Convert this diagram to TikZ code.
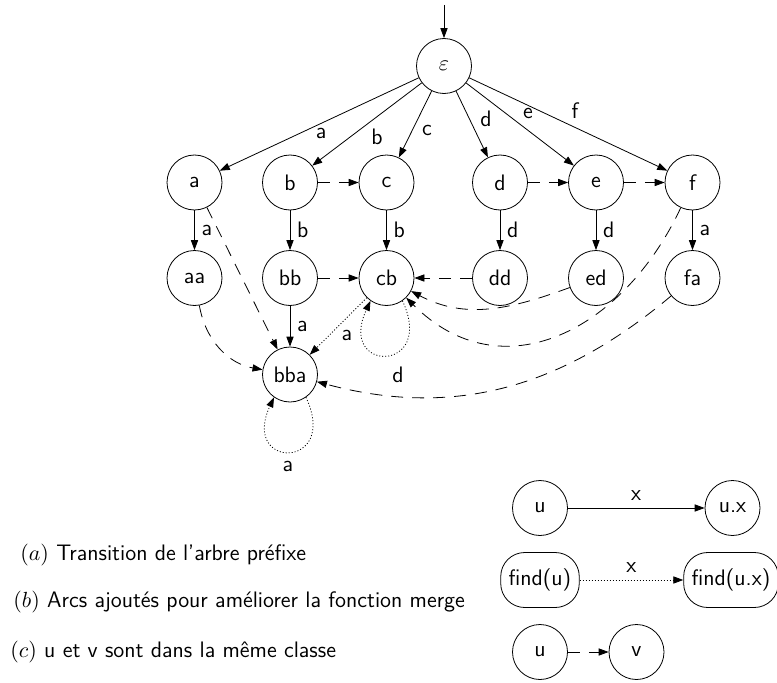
\documentclass[tikz,border=0pt]{standalone}
\usetikzlibrary{positioning}
\usetikzlibrary{arrows.meta}
\usepackage{amsmath}

\begin{document}
\begin{tikzpicture}[x=0.5pt, y=0.5pt, font=\fontsize{11.2}{13}\selectfont\sffamily,
    st/.style={circle, draw, minimum size=27.5pt, inner sep=0pt},
    rst/.style={rectangle, rounded corners=12pt, draw, minimum height=27.5pt, inner xsep=4pt, inner ysep=0pt},
    tr/.style={-{Triangle[length=5pt, width=3.6pt]}},
    same/.style={tr, dash pattern=on 6pt off 4.5pt},
    mrg/.style={tr, dash pattern=on 0.5pt off 1pt},
    capt/.style={anchor=west, inner sep=0pt}]
    \useasboundingbox (0,0) rectangle (777,682);

    % root
    \coordinate (start) at (444,677);
    \node[st] (eps) at (444,616) {$\varepsilon$};

    % first level
    \node[st] (a) at (194.5,499.5) {a};
    \node[st] (b) at (290,499.5) {b};
    \node[st] (c) at (386.5,499.5) {c};
    \node[st] (d) at (500,499.5) {d};
    \node[st] (e) at (596,499.5) {e};
    \node[st] (f) at (692.5,499.5) {f};

    % second level
    \node[st] (aa) at (194.5,404) {aa};
    \node[st] (bb) at (290,404) {bb};
    \node[st] (cb) at (386.5,404) {cb};
    \node[st] (dd) at (500,404) {dd};
    \node[st] (ed) at (596,404) {ed};
    \node[st] (fa) at (692.5,404) {fa};

    % third level
    \node[st] (bba) at (290,307.5) {bba};

    % prefix tree transitions
    \draw[tr] (start) -- (eps);
    \draw[tr] (eps) -- (a) node (ea) at (321,549) {a};
    \draw[tr] (eps) -- (b) node (eb) at (377,545) {b};
    \draw[tr] (eps) -- (c) node (ec) at (427,552) {c};
    \draw[tr] (eps) -- (d) node (ed-l) at (486,563) {d};
    \draw[tr] (eps) -- (e) node (ee) at (528,569) {e};
    \draw[tr] (eps) -- (f) node (ef) at (575,571) {f};
    \draw[tr] (a) -- node[right] (aal) {a} (aa);
    \draw[tr] (b) -- node[right] (bbl) {b} (bb);
    \draw[tr] (c) -- node[right] (cbl) {b} (cb);
    \draw[tr] (d) -- node[right] (ddl) {d} (dd);
    \draw[tr] (e) -- node[right] (edl) {d} (ed);
    \draw[tr] (f) -- node[right] (fal) {a} (fa);
    \draw[tr] (bb) -- node[right] (bbal) {a} (bba);

    % same class
    \draw[same] (b) -- (c);
    \draw[same] (d) -- (e);
    \draw[same] (e) -- (f);
    \draw[same] (bb) -- (cb);
    \draw[same] (dd) -- (cb);
    \draw[same] (a) -- (bba);
    \draw[same] (aa) to[out=-80, in=170] (bba);
    \draw[same] (ed) to[out=-160, in=-28] (cb);
    \draw[same] (f) to[out=-115, in=-45, looseness=1.2] (cb);
    \draw[same] (fa) to[out=-140, in=-15] (bba) node (fdl) at (398,307) {d};

    % arcs added for merge
    \draw[mrg] (cb) -- (bba) node (cbal) at (347,347) {a};
    \draw[mrg] (cb.-55) .. controls +(-65:80) and +(-115:80) .. (cb.-125);
    \draw[mrg] (bba.-55) .. controls +(-65:80) and +(-115:80) .. (bba.-125)
        node (loopl) at (288,216) {a};

    % legend
    \node[st] (lu) at (540,174) {u};
    \node[st] (lux) at (732.5,174) {u.x};
    \node[rst] (fu) at (540,102) {find(u)};
    \node[rst] (fux) at (731,102) {find(u.x)};
    \node[st] (lu2) at (540,30) {u};
    \node[st] (lv) at (636.5,30) {v};
    \draw[tr] (lu) -- node[above] (lx1) {x} (lux);
    \draw[mrg] (fu) -- node[above] (lx2) {x} (fux);
    \draw[same] (lu2) -- (lv);

    \node[capt] (capa) at (20,127) {$(a)$ Transition de l’arbre préfixe};
    \node[capt] (capb) at (13,80) {$(b)$ Arcs ajoutés pour améliorer la fonction merge};
    \node[capt] (capc) at (10,30) {$(c)$ u et v sont dans la même classe};
\end{tikzpicture}
\end{document}
